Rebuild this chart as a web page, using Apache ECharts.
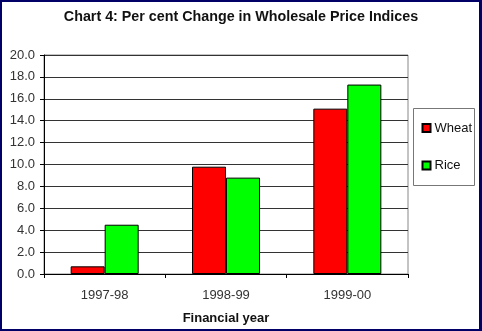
<!DOCTYPE html>
<html><head><meta charset="utf-8">
<script src="https://cdn.jsdelivr.net/npm/echarts@6/dist/echarts.min.js"></script>
<style>
html,body{margin:0;padding:0;background:#fff;}
#c{position:absolute;left:0;top:0;width:482px;height:331px;}
#b{position:absolute;left:0;top:0;width:477px;height:327px;border-style:solid;border-color:#000066;border-width:2px 3px 2px 2px;pointer-events:none;}
</style></head>
<body><div id="c"></div><div id="b"></div>
<script>
const categories = ['1997-98', '1998-99', '1999-00'];
const wheat = [0.7, 9.8, 15.1];
const rice = [4.5, 8.8, 17.3];
const yTicks = {min: 0, max: 20, interval: 2};

const chart = echarts.init(document.getElementById('c'), null, {renderer: 'canvas'});
const font = 'Arial, "Liberation Sans", sans-serif';
chart.setOption({
  animation: false,
  backgroundColor: '#fff',
  title: {
    text: 'Chart 4: Per cent Change in Wholesale Price Indices',
    left: 'center', top: 5,
    textStyle: {fontFamily: font, fontSize: 14.3, fontWeight: 'bold', color: '#111'}
  },
  grid: {left: 44, top: 55, width: 364, height: 219, show: true, borderColor: '#888', borderWidth: 1,
         backgroundColor: 'transparent', containLabel: false, outerBoundsMode: 'none'},
  legend: {
    orient: 'vertical', left: 414, top: 109,
    padding: [12.5, 4, 12, 7.5], itemGap: 24.5,
    itemWidth: 8, itemHeight: 8, icon: 'rect',
    textStyle: {fontFamily: font, fontSize: 13, color: '#111', lineHeight: 13, padding: [0,0,0,-1]},
    data: ['Wheat', 'Rice']
  },
  graphic: [{
    type: 'rect', shape: {x: 413.5, y: 108.5, width: 61, height: 77},
    style: {fill: 'none', stroke: '#777', lineWidth: 1}, silent: true
  }],
  xAxis: {
    type: 'category', data: categories,
    name: 'Financial year', nameLocation: 'middle', nameGap: 38,
    nameTextStyle: {fontFamily: font, fontSize: 13, fontWeight: 'bold', color: '#111'},
    axisLine: {lineStyle: {color: '#000', width: 1}},
    axisTick: {show: true, length: 4, lineStyle: {color: '#000'}},
    axisLabel: {fontFamily: font, fontSize: 13, color: '#333', margin: 15},
    splitLine: {show: false}
  },
  yAxis: {
    type: 'value', min: yTicks.min, max: yTicks.max, interval: yTicks.interval,
    axisLine: {show: true, lineStyle: {color: '#000', width: 1}},
    axisTick: {show: true, length: 4, lineStyle: {color: '#000'}},
    axisLabel: {fontFamily: font, fontSize: 13, color: '#333', margin: 9, formatter: v => v.toFixed(1)},
    splitLine: {show: true, lineStyle: {color: '#333', width: 1}}
  },
  series: [
    {name: 'Wheat', type: 'bar', data: wheat, barWidth: 34, barGap: '0%',
     itemStyle: {color: '#ff0000', borderColor: '#000', borderWidth: 1}},
    {name: 'Rice', type: 'bar', data: rice, barWidth: 34, barGap: '0%',
     itemStyle: {color: '#00ff00', borderColor: '#000', borderWidth: 1}}
  ]
});
</script></body></html>
